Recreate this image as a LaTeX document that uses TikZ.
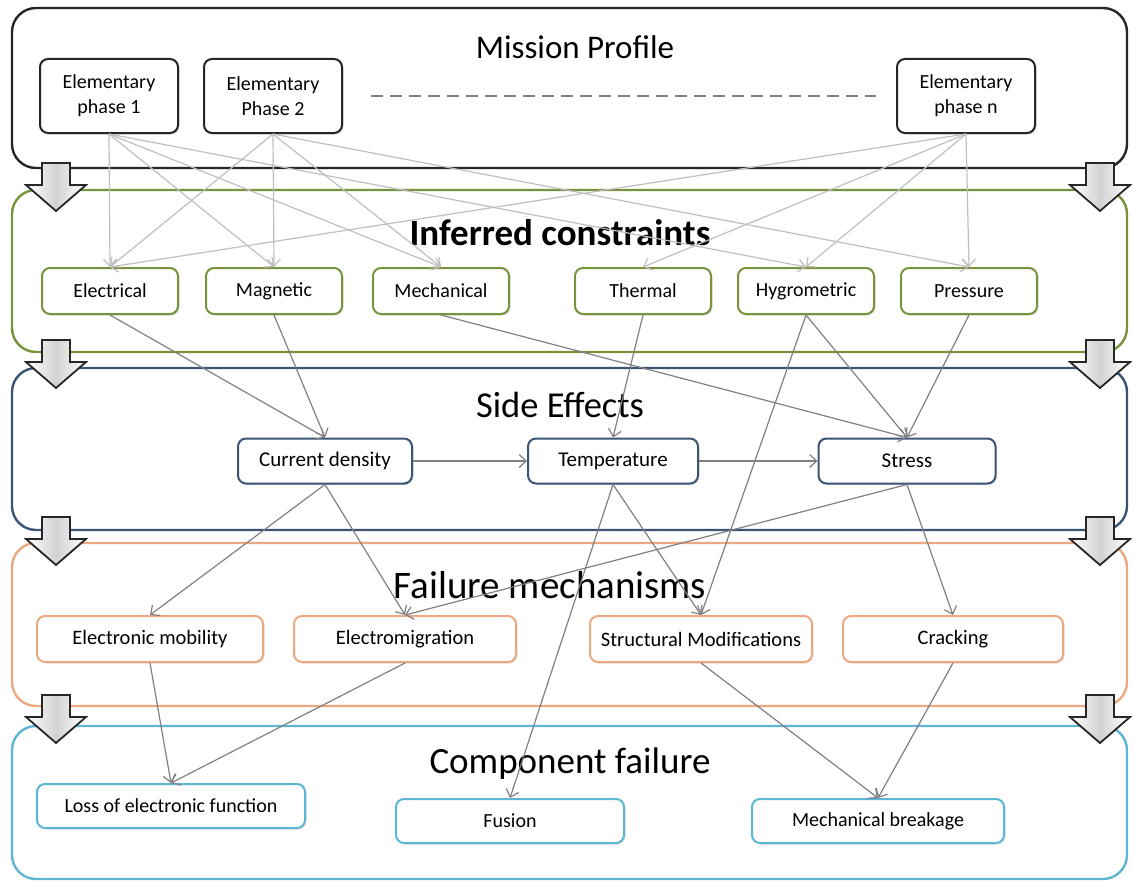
\documentclass[tikz,border=0pt]{standalone}
\usepackage{fontspec}
\setmainfont{Carlito}
\usetikzlibrary{arrows.meta, shadows}

\definecolor{bandgreen}{RGB}{119,147,60}
\definecolor{bandblue}{RGB}{59,84,116}
\definecolor{bandorange}{RGB}{236,168,128}
\definecolor{bandcyan}{RGB}{92,182,212}

\tikzset{
  band/.style={draw=#1, line width=2.4pt, rounded corners=24pt},
  title/.style={font=\fontsize{38}{42}\selectfont},
  item/.style={draw=#1, line width=2pt, rounded corners=8pt, fill=white,
    align=center, inner sep=2pt, font=\fontsize{21}{24}\selectfont,
    drop shadow={shadow xshift=1.5pt, shadow yshift=-1.5pt, opacity=0.25}},
  phase/.style={item=black!85, minimum width=138pt, minimum height=74pt,
    font=\fontsize{20}{25}\selectfont},
  constr/.style={item=bandgreen, minimum width=136pt, minimum height=46pt,
    font=\fontsize{20}{24}\selectfont},
  effect/.style={item=bandblue, minimum height=45pt},
  mechan/.style={item=bandorange, minimum height=46pt, font=\fontsize{20.5}{24}\selectfont},
  failure/.style={item=bandcyan, minimum height=44pt, font=\fontsize{20}{24}\selectfont},
  upper/.style={draw=gray!50, line width=1.2pt, -{Straight Barb[length=7pt,width=13pt]}},
  lower/.style={draw=gray, line width=1.2pt, -{Straight Barb[length=7pt,width=13pt]}},
  blockarrow/.style={draw=black!85, line width=1.8pt, left color=white,
    right color=white, middle color=gray!35},
}

\begin{document}
\begin{tikzpicture}[x=1pt, y=-1pt]
\useasboundingbox (0,0) rectangle (1133,883);

% layers
\draw[band=black!85] (12,8) rectangle (1127,168);
\draw[band=bandgreen] (12,190) rectangle (1127,352);
\draw[band=bandblue] (12,368) rectangle (1127,530);
\draw[band=bandorange] (12,543) rectangle (1127,706);
\draw[band=bandcyan] (12,726) rectangle (1127,879);

\node[title, font=\fontsize{33}{38}\selectfont] (mission) at (575,47) {Mission Profile};
\node[title, font=\bfseries\fontsize{37}{42}\selectfont] (inferred) at (560,233) {Inferred constraints};
\node[title, font=\fontsize{36.5}{42}\selectfont] (side) at (560,405) {Side Effects};
\node[title, font=\fontsize{39}{44}\selectfont] (mechanisms) at (550,585) {Failure mechanisms};
\node[title, font=\fontsize{37}{42}\selectfont] (component) at (570,764) {Component failure};

% mission phases
\node[phase] (ph1) at (109,96) {Elementary\\phase 1};
\node[phase] (ph2) at (273,96) {Elementary\\Phase 2};
\node[phase] (phn) at (966,96) {Elementary\\phase n};
\draw[gray, line width=1.2pt, dash pattern=on 12pt off 7pt,
  shorten <=28pt, shorten >=20pt] (ph2) -- (phn);

% constraints
\node[constr] (elec) at (110,291) {Electrical};
\node[constr] (magn) at (274,291) {Magnetic};
\node[constr] (mech) at (441,291) {Mechanical};
\node[constr] (therm) at (643,291) {Thermal};
\node[constr] (hygr) at (806,291) {Hygrometric};
\node[constr] (pres) at (969,291) {Pressure};

% side effects
\node[effect, minimum width=174pt] (curr) at (325,461) {Current density};
\node[effect, minimum width=170pt] (temp) at (613,461) {Temperature};
\node[effect, minimum width=177pt] (stress) at (907,461) {Stress};

% failure mechanisms
\node[mechan, minimum width=226pt] (mobil) at (150,639) {Electronic mobility};
\node[mechan, minimum width=222pt] (migr) at (405,639) {Electromigration};
\node[mechan, minimum width=222pt] (struct) at (701,639) {Structural Modifications};
\node[mechan, minimum width=220pt] (crack) at (953,639) {Cracking};

% component failure
\node[failure, minimum width=268pt] (loss) at (171,806) {Loss of electronic function};
\node[failure, minimum width=228pt] (fusion) at (510,821) {Fusion};
\node[failure, minimum width=252pt] (break) at (878,821) {Mechanical breakage};

% links
\foreach \a/\b in {ph1/elec, ph1/magn, ph1/mech, ph1/hygr, ph2/elec, ph2/magn,
    ph2/mech, ph2/pres, phn/elec, phn/therm, phn/hygr, phn/pres}
  \draw[upper] (\a.south) -- (\b.north);
\foreach \a/\b in {elec/curr, magn/curr, mech/stress, therm/temp, hygr/stress,
    pres/stress, hygr/struct, curr/mobil, curr/migr, temp/struct, temp/fusion,
    stress/migr, stress/crack, mobil/loss, migr/loss, struct/break, crack/break}
  \draw[lower] (\a.south) -- (\b.north);
\draw[lower] (curr) -- (temp);
\draw[lower] (temp) -- (stress);

% block arrows between layers
\foreach \y in {163,340,517,695}
  \foreach \x in {56,1100}
    \draw[blockarrow] (\x-14,\y) -- (\x+14,\y) -- (\x+14,\y+22) -- (\x+30,\y+22)
      -- (\x,\y+48) -- (\x-30,\y+22) -- (\x-14,\y+22) -- cycle;
\end{tikzpicture}
\end{document}
